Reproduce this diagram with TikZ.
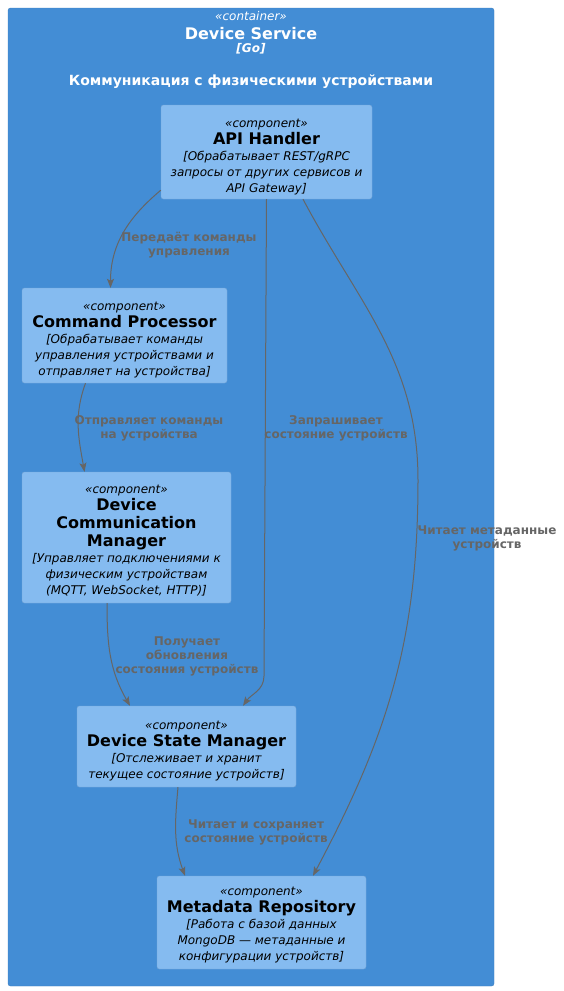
\documentclass[tikz,border=0pt]{standalone}
\usepackage{fontspec}
\setmainfont{DejaVu Sans}
\usetikzlibrary{arrows.meta}
\definecolor{contfill}{HTML}{438DD5}
\definecolor{contline}{HTML}{3C7FC0}
\definecolor{compfill}{HTML}{85BBF0}
\definecolor{compline}{HTML}{78A8D8}
\definecolor{relgrey}{HTML}{666666}

\begin{document}
\begin{tikzpicture}[x=1pt,y=-1pt,
    comp/.style={draw=compline,fill=compfill,rounded corners=2.5pt,align=center,
      font=\fontsize{12}{15}\selectfont,inner sep=0pt},
    rel/.style={draw=relgrey,line width=1pt,-{Stealth[length=9pt,width=7pt,inset=2pt]}},
    rellabel/.style={text=relgrey,font=\bfseries\fontsize{12}{14}\selectfont,align=center,inner sep=0pt},
    contlabel/.style={text=white,anchor=base,inner sep=0pt}]
    \useasboundingbox (0,0) rectangle (563,991);

    % container
    \node[draw=contline,fill=contfill,rounded corners=2.5pt,inner sep=0pt,
      minimum width=486pt,minimum height=978pt] (devsvc) at (251,497) {};
    \node[contlabel,font=\itshape\fontsize{12}{14}\selectfont] (devsvctype) at (251,20) {«container»};
    \node[contlabel,font=\bfseries\fontsize{16}{18}\selectfont] (devsvcname) at (251,39) {Device Service};
    \node[contlabel,font=\bfseries\itshape\fontsize{12}{14}\selectfont] (devsvctech) at (251,52) {[Go]};
    \node[contlabel,font=\bfseries\fontsize{14}{16}\selectfont] (devsvcdesc) at (251,85) {Коммуникация с физическими устройствами};

    % components
    \node[comp,minimum width=211pt,minimum height=94pt] (api) at (266.5,152) {%
      {\itshape\rule{0pt}{18pt}«component»}\\[2pt]
      {\bfseries\fontsize{16}{18}\selectfont API Handler}\\[1pt]
      {\itshape [Обрабатывает REST/gRPC}\\[1pt]
      {\itshape запросы от других сервисов и}\\[1pt]
      {\itshape API Gateway]}};
    \node[comp,minimum width=205pt,minimum height=95pt] (cmd) at (124.5,335.5) {%
      {\itshape\rule{0pt}{18pt}«component»}\\[2pt]
      {\bfseries\fontsize{16}{18}\selectfont Command Processor}\\[1pt]
      {\itshape [Обрабатывает команды}\\[1pt]
      {\itshape управления устройствами и}\\[1pt]
      {\itshape отправляет на устройства]}};
    \node[comp,minimum width=209pt,minimum height=131pt] (dcm) at (126.5,537.5) {%
      {\itshape\rule{0pt}{15pt}«component»}\\[2pt]
      {\bfseries\fontsize{16}{18}\selectfont Device}\\[3pt]
      {\bfseries\fontsize{16}{18}\selectfont Communication}\\[3pt]
      {\bfseries\fontsize{16}{18}\selectfont Manager}\\[1pt]
      {\itshape [Управляет подключениями к}\\[1pt]
      {\itshape физическим устройствам}\\[1pt]
      {\itshape (MQTT, WebSocket, HTTP)]}};
    \node[comp,minimum width=219pt,minimum height=81pt] (dsm) at (186.5,746.5) {%
      {\itshape\rule{0pt}{17pt}«component»}\\[2pt]
      {\bfseries\fontsize{16}{18}\selectfont Device State Manager}\\[1pt]
      {\itshape [Отслеживает и хранит}\\[1pt]
      {\itshape текущее состояние устройств]}};
    \node[comp,minimum width=209pt,minimum height=93pt] (meta) at (261.5,922.5) {%
      {\itshape\rule{0pt}{14pt}«component»}\\[2pt]
      {\bfseries\fontsize{16}{18}\selectfont Metadata Repository}\\[1pt]
      {\itshape [Работа с базой данных}\\[1pt]
      {\itshape MongoDB — метаданные и}\\[1pt]
      {\itshape конфигурации устройств]}};

    % relations
    \coordinate (metabend) at (418,480);
    \coordinate (dsmbend) at (264,676);
    \draw[rel] ([yshift=9pt]api.south west) to[out=-140,in=90] ([xshift=-14pt]cmd.north);
    \draw[rel] ([xshift=-39pt]cmd.south) to[out=-110,in=100] ([xshift=-42pt]dcm.north);
    \draw[rel] (api.south) -- (dsmbend) to[out=-90,in=55] ([xshift=56.5pt]dsm.north);
    \draw[rel] ([xshift=36.5pt]api.south) to[out=-62,in=90] (metabend)
      to[out=-90,in=62] ([xshift=51.5pt]meta.north);
    \draw[rel] ([xshift=-19.5pt]dcm.south) to[out=-90,in=120] ([xshift=-56.5pt]dsm.north);
    \draw[rel] ([xshift=-8.5pt]dsm.south) to[out=-95,in=110] ([xshift=-76.5pt]meta.north);

    % relation labels
    \node[rellabel] (apicmdlbl) at (189,245) {Передаёт команды\\управления};
    \node[rellabel] (cmddcmlbl) at (149,428) {Отправляет команды\\на устройства};
    \node[rellabel] (apidsmlbl) at (336,428) {Запрашивает\\состояние устройств};
    \node[rellabel] (apimetalbl) at (487,538) {Читает метаданные\\устройств};
    \node[rellabel] (dcmdsmlbl) at (187,656) {Получает\\обновления\\состояния устройств};
    \node[rellabel] (dsmmetalbl) at (256,832) {Читает и сохраняет\\состояние устройств};
  \end{tikzpicture}
\end{document}
